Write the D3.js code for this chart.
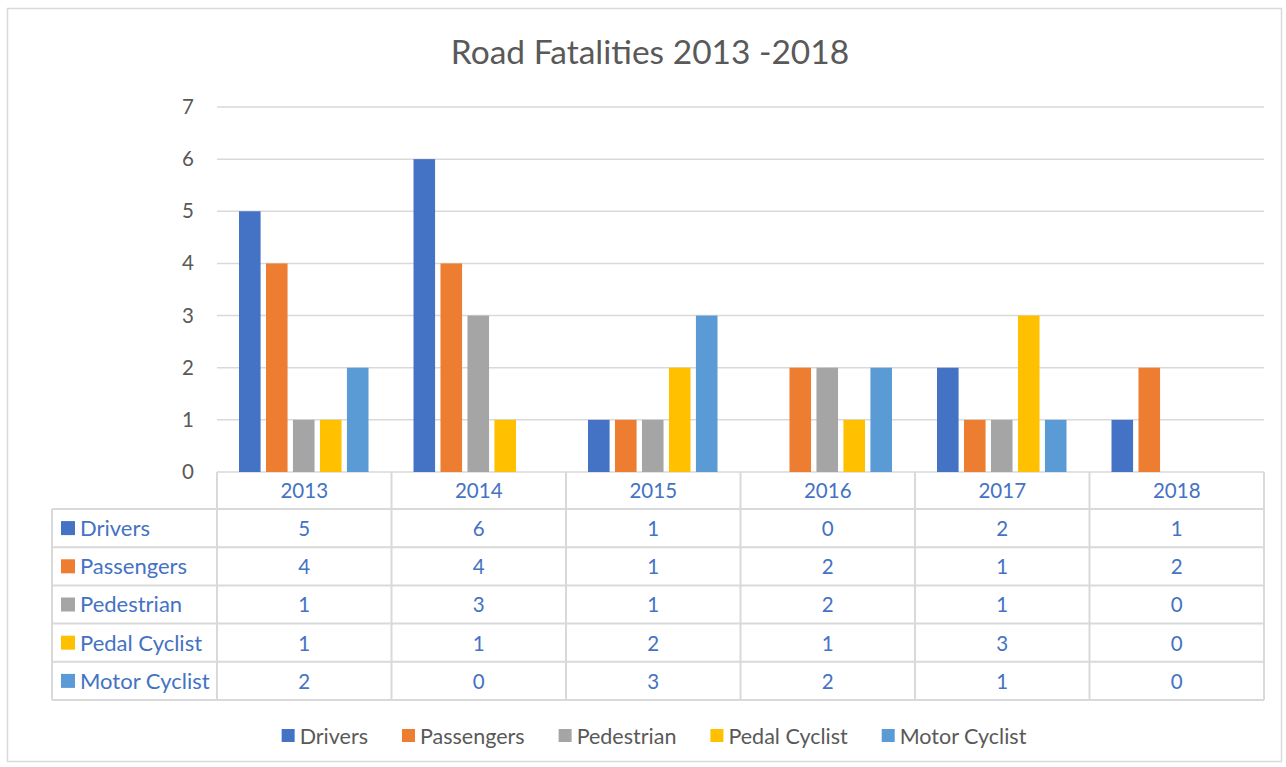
<!DOCTYPE html>
<html>
<head>
<meta charset="utf-8">
<script src="https://cdn.jsdelivr.net/npm/d3@7"></script>
<style>
body { margin: 0; background: #fff; }
text { font-family: Lato, "Open Sans", sans-serif; }
</style>
</head>
<body>
<script>
var years = ["2013", "2014", "2015", "2016", "2017", "2018"];
var seriesNames = ["Drivers", "Passengers", "Pedestrian", "Pedal Cyclist", "Motor Cyclist"];
var drivers = [5, 6, 1, 0, 2, 1];
var passengers = [4, 4, 1, 2, 1, 2];
var pedestrian = [1, 3, 1, 2, 1, 0];
var pedalCyclist = [1, 1, 2, 1, 3, 0];
var motorCyclist = [2, 0, 3, 2, 1, 0];
var yTicks = [0, 1, 2, 3, 4, 5, 6, 7];
var colors = ["#4472C4", "#ED7D31", "#A5A5A5", "#FFC000", "#5B9BD5"];

var seriesValues = [drivers, passengers, pedestrian, pedalCyclist, motorCyclist];

var W = 1286, H = 767;
var svg = d3.select("body").append("svg")
  .attr("width", W)
  .attr("height", H);

// chart frame
svg.append("rect")
  .attr("x", 7.5).attr("y", 8.5)
  .attr("width", 1274).attr("height", 753)
  .attr("fill", "#fff")
  .attr("stroke", "#d9d9d9")
  .attr("stroke-width", 1.5);

svg.append("text")
  .attr("x", 650).attr("y", 64)
  .attr("text-anchor", "middle")
  .attr("font-size", 33.5)
  .attr("fill", "#595959")
  .text("Road Fatalities 2013 -2018");

var plotLeft = 217, plotRight = 1264;
var y = d3.scaleLinear().domain([0, 7]).range([472, 107]);
var x0 = d3.scaleBand().domain(years).range([plotLeft, plotRight]);
var x1 = d3.scaleBand().domain(seriesNames)
  .range([22, x0.bandwidth() - 23])
  .paddingInner(0.2);

// gridlines
svg.append("g")
  .selectAll("line")
  .data(yTicks)
  .join("line")
  .attr("x1", plotLeft).attr("x2", plotRight)
  .attr("y1", d => y(d)).attr("y2", d => y(d))
  .attr("stroke", "#d9d9d9")
  .attr("stroke-width", 1.5);

svg.append("g")
  .selectAll("text")
  .data(yTicks)
  .join("text")
  .attr("x", 194)
  .attr("y", d => y(d) + 7)
  .attr("text-anchor", "end")
  .attr("font-size", 20.5)
  .attr("fill", "#595959")
  .text(d => d);

// bars
var groups = svg.append("g")
  .selectAll("g")
  .data(seriesValues)
  .join("g")
  .attr("fill", (d, i) => colors[i]);

groups.each(function(vals, si) {
  d3.select(this).selectAll("rect")
    .data(vals)
    .join("rect")
    .attr("x", (v, j) => x0(years[j]) + x1(seriesNames[si]))
    .attr("width", x1.bandwidth())
    .attr("y", v => y(v))
    .attr("height", v => y(0) - y(v));
});

// data table
var tableTop = 472, headerBottom = 509, rowH = (700 - 509) / 5, tableLeft = 52;
var rowY = d => headerBottom + d * rowH;
var grid = svg.append("g").attr("stroke", "#d9d9d9").attr("stroke-width", 2);

grid.selectAll(".hl")
  .data(d3.range(6))
  .join("line")
  .attr("x1", tableLeft).attr("x2", plotRight)
  .attr("y1", d => rowY(d)).attr("y2", d => rowY(d));

grid.selectAll(".vl")
  .data(x0.range().concat(years.map(d => x0(d))))
  .join("line")
  .attr("x1", d => d).attr("x2", d => d)
  .attr("y1", tableTop).attr("y2", rowY(5));

grid.append("line")
  .attr("x1", tableLeft).attr("x2", tableLeft)
  .attr("y1", headerBottom).attr("y2", rowY(5));

svg.append("g")
  .selectAll("text")
  .data(years)
  .join("text")
  .attr("x", d => x0(d) + x0.bandwidth() / 2)
  .attr("y", 498)
  .attr("text-anchor", "middle")
  .attr("font-size", 20.5)
  .attr("fill", "#4472C4")
  .text(d => d);

var rows = svg.append("g")
  .selectAll("g")
  .data(seriesNames)
  .join("g")
  .attr("transform", (d, i) => "translate(0," + rowY(i) + ")");

rows.append("rect")
  .attr("x", 61).attr("y", rowH / 2 - 7)
  .attr("width", 14).attr("height", 14)
  .attr("fill", (d, i) => colors[i]);

rows.append("text")
  .attr("x", 80).attr("y", rowH / 2 + 8)
  .attr("font-size", 22)
  .attr("fill", "#4472C4")
  .text(d => d);

rows.each(function(name, si) {
  d3.select(this).selectAll(".val")
    .data(seriesValues[si])
    .join("text")
    .attr("x", (v, j) => x0(years[j]) + x0.bandwidth() / 2)
    .attr("y", rowH / 2 + 8)
    .attr("text-anchor", "middle")
    .attr("font-size", 20.5)
    .attr("fill", "#4472C4")
    .text(v => v);
});

// legend
var legend = svg.append("g");
var items = legend.selectAll("g")
  .data(seriesNames)
  .join("g");
items.append("rect")
  .attr("y", 729).attr("width", 13).attr("height", 13)
  .attr("fill", (d, i) => colors[i]);
items.append("text")
  .attr("x", 18).attr("y", 744)
  .attr("font-size", 21.5)
  .attr("fill", "#595959")
  .text(d => d);

var gap = 34;
var pos = 0, starts = [];
items.each(function() {
  starts.push(pos);
  pos += 18 + d3.select(this).select("text").node().getComputedTextLength() + gap;
});
var total = pos - gap;
var lx = 654 - total / 2;
items.attr("transform", (d, i) => "translate(" + (lx + starts[i]) + ",0)");
</script>
</body>
</html>
